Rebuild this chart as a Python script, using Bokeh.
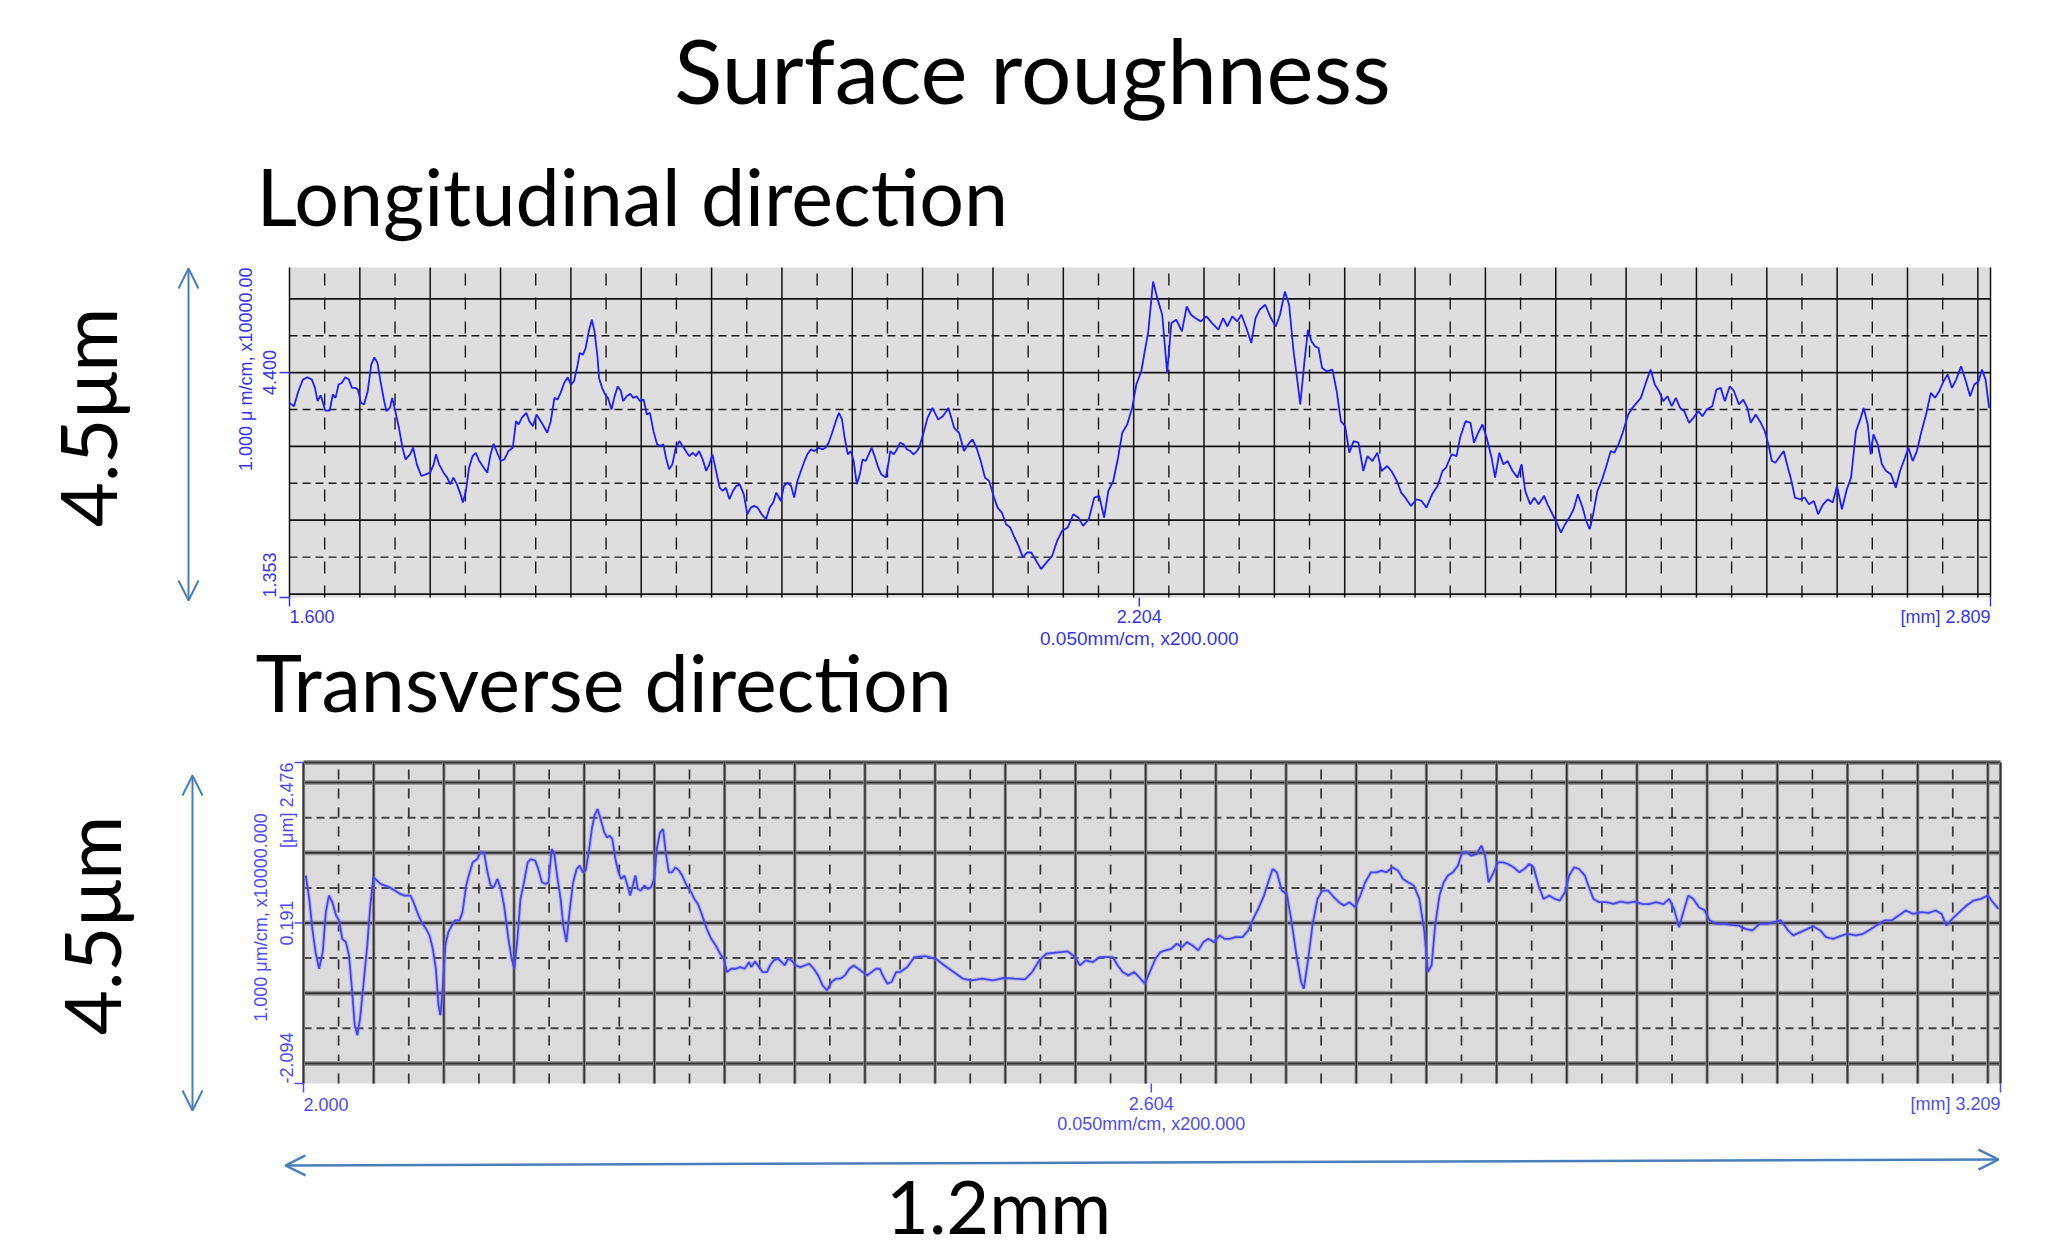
import numpy as np
from bokeh.plotting import figure
from bokeh.models import Range1d, Arrow, OpenHead
from bokeh.core.properties import value
from bokeh.embed import file_html
from bokeh.resources import INLINE

# ---------------------------------------------------------------- data
TITLE = "Surface roughness"
SUB_LONG = "Longitudinal direction"
SUB_TRANS = "Transverse direction"
SPAN_Y_LABEL = "4.5\u03bcm"
SPAN_X_LABEL = "1.2mm"

# profile, longitudinal direction: (position [mm], height [um])
long_profile = [
    (1.6000,3.990),(1.6032,3.945),(1.6063,4.148),(1.6095,4.305),(1.6127,4.337),(1.6159,4.305),(1.6181,4.193),(1.6200,4.013),(1.6222,4.094),(1.6254,3.886),
    (1.6286,3.886),(1.6308,4.103),(1.6327,4.058),(1.6349,4.238),(1.6371,4.260),(1.6397,4.337),(1.6422,4.305),(1.6444,4.193),(1.6467,4.193),(1.6486,4.170),
    (1.6508,3.990),(1.6530,3.968),(1.6556,4.148),(1.6581,4.508),(1.6603,4.607),(1.6625,4.531),(1.6651,4.238),(1.6673,4.013),(1.6689,3.877),(1.6714,3.922),
    (1.6730,4.058),(1.6752,3.877),(1.6778,3.652),(1.6803,3.382),(1.6825,3.224),(1.6857,3.292),(1.6879,3.382),(1.6905,3.157),(1.6937,2.999),(1.6968,3.022),
    (1.7000,3.044),(1.7025,3.157),(1.7041,3.292),(1.7063,3.157),(1.7095,3.044),(1.7121,2.977),(1.7143,2.886),(1.7165,2.977),(1.7190,2.886),(1.7216,2.751),
    (1.7232,2.639),(1.7254,2.796),(1.7276,3.112),(1.7302,3.269),(1.7324,3.314),(1.7349,3.202),(1.7381,3.112),(1.7406,3.044),(1.7429,3.292),(1.7451,3.436),
    (1.7476,3.314),(1.7502,3.202),(1.7527,3.224),(1.7556,3.337),(1.7587,3.382),(1.7610,3.742),(1.7629,3.697),(1.7651,3.787),(1.7683,3.855),(1.7705,3.742),
    (1.7730,3.675),(1.7756,3.832),(1.7778,3.765),(1.7800,3.697),(1.7832,3.585),(1.7857,3.742),(1.7883,4.058),(1.7905,4.035),(1.7927,4.125),(1.7952,4.260),
    (1.7978,4.337),(1.8000,4.238),(1.8022,4.283),(1.8048,4.508),(1.8063,4.666),(1.8086,4.643),(1.8105,4.733),(1.8127,4.959),(1.8149,5.116),(1.8168,4.959),
    (1.8190,4.598),(1.8200,4.328),(1.8222,4.193),(1.8244,4.103),(1.8263,4.058),(1.8289,3.900),(1.8308,4.058),(1.8333,4.215),(1.8356,4.148),(1.8371,4.013),
    (1.8397,4.080),(1.8422,4.112),(1.8444,4.058),(1.8467,4.080),(1.8492,4.013),(1.8517,4.035),(1.8540,3.832),(1.8562,3.855),(1.8587,3.607),(1.8613,3.427),
    (1.8635,3.405),(1.8657,3.427),(1.8676,3.247),(1.8698,3.089),(1.8721,3.157),(1.8746,3.382),(1.8771,3.472),(1.8794,3.405),(1.8825,3.314),(1.8841,3.269),
    (1.8867,3.314),(1.8889,3.269),(1.8911,3.337),(1.8937,3.224),(1.8962,3.067),(1.8984,3.157),(1.9006,3.292),(1.9032,3.067),(1.9057,2.841),(1.9079,2.796),
    (1.9102,2.841),(1.9127,2.684),(1.9152,2.796),(1.9175,2.864),(1.9200,2.886),(1.9229,2.751),(1.9254,2.481),(1.9279,2.571),(1.9302,2.594),(1.9327,2.571),
    (1.9356,2.481),(1.9387,2.413),(1.9413,2.571),(1.9438,2.639),(1.9460,2.774),(1.9492,2.661),(1.9514,2.864),(1.9540,2.909),(1.9565,2.864),(1.9587,2.706),
    (1.9610,2.932),(1.9635,3.067),(1.9660,3.202),(1.9683,3.301),(1.9705,3.359),(1.9730,3.337),(1.9762,3.382),(1.9787,3.359),(1.9810,3.382),(1.9832,3.450),
    (1.9857,3.585),(1.9883,3.742),(1.9905,3.855),(1.9927,3.765),(1.9946,3.517),(1.9968,3.292),(1.9990,3.337),(2.0010,3.202),(2.0032,2.886),(2.0054,3.022),
    (2.0073,3.224),(2.0095,3.202),(2.0117,3.292),(2.0137,3.382),(2.0159,3.269),(2.0181,3.134),(2.0206,3.022),(2.0238,2.977),(2.0254,3.134),(2.0270,3.337),
    (2.0295,3.292),(2.0317,3.359),(2.0340,3.450),(2.0365,3.427),(2.0390,3.359),(2.0413,3.337),(2.0435,3.292),(2.0460,3.337),(2.0475,3.382),
    (2.0510,3.607),(2.0535,3.787),(2.0570,3.922),(2.0610,3.765),(2.0644,3.810),(2.0684,3.922),(2.0724,3.652),(2.0759,3.585),(2.0794,3.337),(2.0824,3.427),
    (2.0854,3.495),(2.0883,3.382),(2.0913,3.202),(2.0943,2.977),(2.0973,2.932),(2.1008,2.706),(2.1033,2.571),(2.1063,2.504),(2.1093,2.346),(2.1123,2.301),
    (2.1153,2.166),(2.1182,2.053),(2.1212,1.896),(2.1242,1.963),(2.1272,1.963),(2.1307,1.850),(2.1342,1.738),(2.1381,1.828),(2.1421,1.918),(2.1456,2.121),
    (2.1491,2.256),(2.1531,2.301),(2.1571,2.481),(2.1606,2.436),(2.1641,2.323),(2.1681,2.413),(2.1720,2.706),(2.1755,2.729),(2.1790,2.436),(2.1820,2.796),
    (2.1855,2.932),(2.1889,3.247),(2.1919,3.585),(2.1954,3.697),(2.1989,3.922),(2.2019,4.238),(2.2054,4.418),(2.2079,4.688),(2.2104,4.959),(2.2138,5.634),
    (2.2168,5.409),(2.2203,5.184),(2.2238,4.396),(2.2268,5.071),(2.2303,5.116),(2.2343,4.959),(2.2377,5.296),(2.2407,5.184),(2.2437,5.139),(2.2477,5.094),
    (2.2517,5.161),(2.2557,5.071),(2.2602,4.981),(2.2636,5.139),(2.2666,5.026),(2.2701,5.161),(2.2736,5.094),(2.2766,5.184),(2.2801,5.004),(2.2836,4.801),
    (2.2866,5.139),(2.2895,5.251),(2.2935,5.319),(2.2975,5.139),(2.3010,5.026),(2.3040,5.184),(2.3075,5.499),(2.3105,5.319),(2.3134,4.733),(2.3164,4.283),
    (2.3184,3.968),(2.3214,4.553),(2.3239,4.981),(2.3264,4.823),(2.3289,4.756),(2.3314,4.733),(2.3339,4.463),(2.3373,4.418),(2.3413,4.441),(2.3443,4.148),
    (2.3473,3.742),(2.3503,3.675),(2.3533,3.314),(2.3563,3.472),(2.3598,3.450),(2.3632,3.067),(2.3662,3.269),(2.3697,3.202),(2.3732,3.314),(2.3762,3.067),
    (2.3802,3.134),(2.3832,3.067),(2.3871,2.932),(2.3901,2.774),(2.3931,2.706),(2.3971,2.594),(2.4011,2.684),(2.4046,2.661),(2.4081,2.571),(2.4121,2.751),
    (2.4160,2.864),(2.4195,3.067),(2.4220,3.112),(2.4260,3.292),(2.4295,3.269),(2.4320,3.517),(2.4359,3.742),(2.4394,3.720),(2.4419,3.450),(2.4449,3.585),
    (2.4479,3.697),(2.4509,3.517),(2.4544,3.247),(2.4569,2.977),(2.4599,3.314),(2.4628,3.157),(2.4658,3.202),(2.4693,3.067),(2.4728,2.977),(2.4758,3.157),
    (2.4783,2.796),(2.4818,2.616),(2.4848,2.706),(2.4878,2.616),(2.4917,2.729),(2.4942,2.616),(2.4977,2.481),(2.5007,2.368),(2.5037,2.233),(2.5067,2.346),
    (2.5097,2.436),(2.5127,2.549),(2.5157,2.751),(2.5191,2.571),(2.5216,2.391),(2.5241,2.278),(2.5266,2.481),(2.5296,2.796),(2.5326,2.932),(2.5356,3.112),
    (2.5391,3.337),(2.5416,3.314),(2.5446,3.427),(2.5476,3.585),(2.5515,3.832),(2.5545,3.922),(2.5575,3.990),(2.5605,4.058),(2.5640,4.260),(2.5674,4.441),
    (2.5704,4.238),(2.5734,4.148),(2.5764,4.013),(2.5794,4.080),(2.5824,3.945),(2.5854,4.058),(2.5884,3.922),(2.5913,3.877),(2.5948,3.720),(2.5978,3.787),
    (2.6013,3.877),(2.6043,3.810),(2.6073,3.900),(2.6112,3.945),(2.6142,4.170),(2.6172,4.193),(2.6202,4.013),(2.6237,4.215),(2.6267,4.148),(2.6302,3.968),
    (2.6332,4.035),(2.6362,3.922),(2.6386,3.720),(2.6421,3.832),(2.6451,3.742),(2.6486,3.607),(2.6511,3.427),(2.6536,3.202),(2.6561,3.179),(2.6586,3.247),
    (2.6620,3.337),(2.6650,3.112),(2.6670,2.977),(2.6700,2.706),(2.6735,2.684),(2.6770,2.706),(2.6800,2.616),(2.6835,2.661),(2.6865,2.481),(2.6900,2.616),
    (2.6934,2.684),(2.6969,2.639),(2.6999,2.864),(2.7034,2.549),(2.7069,2.819),(2.7099,2.977),(2.7134,3.607),(2.7168,3.787),(2.7188,3.922),(2.7218,3.697),
    (2.7238,3.292),(2.7258,3.562),(2.7288,3.427),(2.7318,3.157),(2.7348,3.067),(2.7382,3.022),(2.7417,2.841),(2.7447,3.067),(2.7482,3.247),(2.7507,3.382),
    (2.7537,3.202),(2.7567,3.337),(2.7597,3.585),(2.7632,3.832),(2.7666,4.125),(2.7696,4.058),(2.7726,4.148),(2.7756,4.283),(2.7786,4.373),(2.7816,4.193),
    (2.7846,4.305),(2.7881,4.486),(2.7915,4.283),(2.7945,4.080),(2.7975,4.238),(2.8005,4.283),(2.8030,4.441),(2.8055,4.305),(2.8080,3.922),
]

# profile, transverse direction: (position [mm], height [um])
trans_profile = [
    (2.0016,0.866),(2.0041,0.534),(2.0063,0.108),(2.0086,-0.223),(2.0111,-0.460),(2.0137,-0.223),(2.0159,0.345),(2.0181,0.582),(2.0206,0.487),(2.0232,0.298),
    (2.0254,0.227),(2.0276,-0.034),(2.0302,-0.081),(2.0324,-0.271),(2.0343,-0.697),(2.0365,-1.265),(2.0384,-1.407),(2.0403,-1.170),(2.0429,-0.649),(2.0454,-0.129),
    (2.0476,0.440),(2.0498,0.842),(2.0524,0.795),(2.0549,0.747),(2.0581,0.724),(2.0613,0.700),(2.0651,0.653),(2.0689,0.605),(2.0721,0.582),(2.0762,0.582),
    (2.0784,0.487),(2.0810,0.345),(2.0841,0.203),(2.0873,0.108),(2.0898,0.014),(2.0921,-0.176),(2.0943,-0.460),(2.0962,-0.981),(2.0975,-1.123),(2.0990,-0.791),
    (2.1010,-0.129),(2.1032,0.061),(2.1057,0.155),(2.1079,0.227),(2.1111,0.227),(2.1133,0.345),(2.1159,0.724),(2.1184,0.913),(2.1206,1.055),(2.1238,1.102),
    (2.1260,1.197),(2.1286,1.197),(2.1311,0.913),(2.1333,0.724),(2.1356,0.700),(2.1381,0.818),(2.1406,0.676),(2.1429,0.440),(2.1460,-0.034),(2.1483,-0.318),
    (2.1502,-0.460),(2.1524,-0.034),(2.1546,0.534),(2.1571,0.771),(2.1597,1.055),(2.1619,1.102),(2.1651,1.079),(2.1673,0.960),(2.1698,0.771),(2.1724,0.747),
    (2.1746,0.771),(2.1768,1.244),(2.1787,1.173),(2.1810,0.818),(2.1832,0.534),(2.1851,0.155),(2.1873,-0.081),(2.1895,0.345),(2.1921,0.771),(2.1946,0.960),
    (2.1968,1.008),(2.1990,0.913),(2.2010,0.937),(2.2032,1.197),(2.2054,1.528),(2.2073,1.718),(2.2095,1.812),(2.2117,1.670),(2.2143,1.481),(2.2162,1.410),
    (2.2181,1.434),(2.2200,1.386),(2.2222,1.102),(2.2244,0.913),(2.2263,0.818),(2.2286,0.866),(2.2308,0.724),(2.2327,0.582),(2.2349,0.747),(2.2365,0.866),
    (2.2381,0.676),(2.2403,0.653),(2.2429,0.724),(2.2454,0.676),(2.2476,0.700),(2.2498,0.818),(2.2517,1.244),(2.2540,1.481),(2.2562,1.528),(2.2581,1.197),
    (2.2603,0.913),(2.2625,0.913),(2.2651,0.984),(2.2676,0.937),(2.2698,0.866),(2.2730,0.724),(2.2762,0.629),(2.2784,0.534),(2.2810,0.463),(2.2841,0.298),
    (2.2873,0.108),(2.2905,-0.034),(2.2937,-0.129),(2.2968,-0.247),(2.2994,-0.318),(2.3016,-0.507),(2.3048,-0.460),(2.3079,-0.460),(2.3111,-0.436),(2.3143,-0.460),
    (2.3175,-0.365),(2.3190,-0.436),(2.3216,-0.356),(2.3238,-0.413),(2.3270,-0.507),(2.3302,-0.507),(2.3324,-0.413),(2.3349,-0.342),(2.3381,-0.318),(2.3406,-0.365),
    (2.3429,-0.413),(2.3451,-0.318),(2.3476,-0.342),(2.3508,-0.413),(2.3540,-0.436),(2.3571,-0.413),(2.3603,-0.389),(2.3635,-0.460),(2.3667,-0.555),(2.3698,-0.697),
    (2.3730,-0.768),(2.3762,-0.649),(2.3794,-0.602),(2.3825,-0.602),(2.3857,-0.555),(2.3889,-0.460),(2.3921,-0.413),(2.3952,-0.460),(2.3984,-0.507),(2.4016,-0.555),
    (2.4048,-0.507),(2.4079,-0.460),(2.4105,-0.460),(2.4127,-0.555),(2.4159,-0.673),(2.4190,-0.649),(2.4222,-0.507),
    (2.4251,-0.507),(2.4302,-0.436),(2.4353,-0.294),(2.4429,-0.280),(2.4505,-0.318),(2.4566,-0.413),(2.4632,-0.507),(2.4698,-0.602),(2.4759,-0.626),(2.4835,-0.602),
    (2.4912,-0.626),(2.4988,-0.592),(2.5064,-0.602),(2.5140,-0.611),(2.5191,-0.507),(2.5242,-0.342),(2.5293,-0.247),(2.5344,-0.233),(2.5394,-0.223),(2.5445,-0.214),
    (2.5496,-0.294),(2.5532,-0.413),(2.5572,-0.342),(2.5623,-0.365),(2.5674,-0.294),(2.5725,-0.294),(2.5765,-0.294),(2.5801,-0.413),(2.5836,-0.507),(2.5877,-0.555),
    (2.5918,-0.507),(2.5953,-0.578),(2.5994,-0.673),(2.6029,-0.507),(2.6070,-0.318),(2.6106,-0.223),(2.6141,-0.199),(2.6182,-0.176),(2.6222,-0.105),(2.6258,-0.152),
    (2.6294,-0.081),(2.6334,-0.129),(2.6375,-0.199),(2.6411,-0.081),(2.6446,-0.034),(2.6487,-0.081),(2.6527,0.014),(2.6563,-0.034),(2.6599,-0.034),(2.6639,-0.010),
    (2.6690,-0.010),(2.6731,0.085),(2.6766,0.250),(2.6802,0.392),(2.6843,0.582),(2.6873,0.771),(2.6904,0.960),(2.6934,0.913),(2.6970,0.653),(2.7005,0.605),
    (2.7036,0.250),(2.7071,-0.223),(2.7107,-0.649),(2.7127,-0.744),(2.7158,-0.318),(2.7188,0.155),(2.7224,0.534),(2.7259,0.653),(2.7300,0.653),(2.7341,0.558),
    (2.7376,0.487),(2.7412,0.440),(2.7452,0.487),(2.7493,0.416),(2.7529,0.582),(2.7564,0.771),(2.7605,0.913),(2.7645,0.913),(2.7681,0.937),(2.7716,0.913),
    (2.7757,0.984),(2.7798,0.937),(2.7833,0.818),(2.7869,0.771),(2.7910,0.724),(2.7950,0.534),(2.7986,0.061),(2.8011,-0.507),(2.8037,-0.413),(2.8062,0.155),
    (2.8093,0.582),(2.8123,0.771),(2.8154,0.866),(2.8189,0.913),(2.8225,1.008),(2.8255,1.197),(2.8291,1.197),(2.8316,1.150),(2.8357,1.173),(2.8392,1.292),
    (2.8418,1.150),(2.8443,0.771),(2.8479,0.913),(2.8509,1.055),(2.8545,1.055),(2.8580,1.031),(2.8621,0.984),(2.8662,0.913),(2.8697,0.960),(2.8733,1.031),
    (2.8763,0.984),(2.8799,0.724),(2.8834,0.534),(2.8875,0.582),(2.8916,0.534),(2.8951,0.511),(2.8987,0.629),(2.9017,0.866),(2.9053,0.984),(2.9088,0.960),
    (2.9129,0.866),(2.9154,0.724),(2.9190,0.534),(2.9231,0.487),(2.9282,0.487),(2.9332,0.463),(2.9383,0.496),(2.9434,0.477),(2.9485,0.496),(2.9536,0.463),
    (2.9586,0.459),(2.9637,0.487),(2.9688,0.459),(2.9729,0.534),(2.9764,0.392),(2.9800,0.132),(2.9830,0.345),(2.9866,0.582),(2.9901,0.534),(2.9942,0.416),
    (2.9983,0.369),(3.0018,0.227),(3.0069,0.179),(3.0120,0.179),(3.0171,0.165),(3.0222,0.155),(3.0272,0.108),(3.0323,0.085),(3.0374,0.179),(3.0425,0.179),
    (3.0476,0.203),(3.0526,0.227),(3.0577,0.085),(3.0613,0.014),(3.0664,0.061),(3.0715,0.108),(3.0755,0.146),(3.0806,0.085),(3.0847,-0.010),(3.0898,-0.034),
    (3.0948,0.004),(3.0999,0.037),(3.1060,0.014),(3.1111,0.037),(3.1162,0.099),(3.1213,0.165),(3.1263,0.227),(3.1314,0.227),(3.1365,0.298),(3.1416,0.369),
    (3.1467,0.321),(3.1528,0.345),(3.1578,0.335),(3.1629,0.369),(3.1670,0.321),(3.1705,0.155),(3.1746,0.250),(3.1797,0.345),(3.1848,0.440),(3.1898,0.511),
    (3.1949,0.534),(3.2000,0.582),(3.2036,0.487),(3.2076,0.392),
]

long_xlim = (1.600, 2.809)
long_ylim = (1.353, 5.824)
trans_xlim = (2.000, 3.209)
trans_ylim = (-2.094, 2.476)

long_xticks = [1.600, 2.204, 2.809]
long_xtick_labels = ["1.600", "2.204", "[mm] 2.809"]
long_yticks = [1.353, 4.400]
long_ytick_labels = ["1.353", "4.400"]
trans_xticks = [2.000, 2.604, 3.209]
trans_xtick_labels = ["2.000", "2.604", "[mm] 3.209"]
trans_yticks = [-2.094, 0.191, 2.476]
trans_ytick_labels = ["-2.094", "0.191", "[\u03bcm] 2.476"]

X_SCALE_LABEL = "0.050mm/cm, x200.000"
LONG_Y_SCALE_LABEL = "1.000 \u03bc m/cm, x10000.00"
TRANS_Y_SCALE_LABEL = "1.000 \u03bcm/cm, x10000.000"

GRID_STEP_X = 0.05   # mm per major division (0.050 mm/cm)
GRID_STEP_Y = 1.0    # um per major division (1.000 um/cm)

# ---------------------------------------------------------------- layout
W, H = 2048, 1252
OX, OY = 0, 0
BIG_FONT = "Lato"
SMALL_FONT = "Liberation Sans"
ARROW_COLOR = "#4a7ebb"
BASELINE_FIX = 0.385   # em; measured offset of the rendered alphabetic baseline


def Y(py):
    """page pixel row (downwards) -> default data y (upwards)"""
    return -py


def lin_range(p0, p1, v0, v1, c0, c1):
    k = (v1 - v0) / (p1 - p0)
    return Range1d(start=v0 + (c0 - p0) * k, end=v0 + (c1 - p0) * k)


p = figure(width=W, height=H,
           x_range=Range1d(OX, OX + W), y_range=Range1d(-(OY + H), -OY),
           x_axis_type=None, y_axis_type=None,
           toolbar_location=None, output_backend="svg", min_border=0)
p.outline_line_color = None
p.background_fill_color = "white"
p.border_fill_color = "white"

# chart frames on the page (pixels) -> data ranges
p.extra_x_ranges = {
    "xL": lin_range(289, 1990, long_xlim[0], long_xlim[1], OX, OX + W),
    "xT": lin_range(303, 2000, trans_xlim[0], trans_xlim[1], OX, OX + W),
}
p.extra_y_ranges = {
    "yL": lin_range(597, 267, long_ylim[0], long_ylim[1], OY + H, OY),
    "yT": lin_range(1083, 762, trans_ylim[0], trans_ylim[1], OY + H, OY),
}


def txt(x, y, s, size, color, font, align="left", angle=0.0, xn="default", yn="default"):
    d = BASELINE_FIX * size
    if angle == 0.0:
        y = y + d          # y is always a page coordinate for horizontal texts
    else:
        x = x - d          # x is always a page coordinate for vertical texts
    p.text(x=[x], y=[y], text=[s], angle=angle, text_align=align, text_baseline="alphabetic",
           text_font=value(font), text_font_size=value(f"{size}px"), text_color=color,
           x_range_name=xn, y_range_name=yn)


def grid_positions(xlim, ylim, y_anchor):
    xs_solid = list(np.round(np.arange(xlim[0], xlim[1] + 1e-9, GRID_STEP_X), 4)) + [xlim[1]]
    xs_dash = np.round(np.arange(xlim[0] + GRID_STEP_X / 2, xlim[1], GRID_STEP_X), 4)
    y0 = y_anchor - np.floor((y_anchor - ylim[0]) / GRID_STEP_Y) * GRID_STEP_Y
    ys_solid = np.arange(y0, ylim[1], GRID_STEP_Y)
    yd0 = y0 - GRID_STEP_Y / 2
    if yd0 < ylim[0]:
        yd0 += GRID_STEP_Y
    ys_dash = np.arange(yd0, ylim[1], GRID_STEP_Y)
    return xs_solid, xs_dash, ys_solid, ys_dash


# ---------------------------------------------------------------- chart 1 (longitudinal)
kwL = dict(x_range_name="xL", y_range_name="yL")
p.quad(left=[long_xlim[0]], right=[long_xlim[1]], bottom=[long_ylim[0]], top=[long_ylim[1]],
       fill_color="#dedede", line_color=None, **kwL)
xs_s, xs_d, ys_s, ys_d = grid_positions(long_xlim, long_ylim, long_yticks[1])
n = len(ys_d)
p.segment(x0=[long_xlim[0]] * n, x1=[long_xlim[1]] * n, y0=ys_d, y1=ys_d,
          line_color="#1a1a1a", line_width=1.4, line_dash="8 5", **kwL)
n = len(xs_d)
p.segment(x0=xs_d, x1=xs_d, y0=[long_ylim[0]] * n, y1=[long_ylim[1]] * n,
          line_color="#1a1a1a", line_width=1.4, line_dash="12 12", **kwL)
n = len(ys_s)
p.segment(x0=[long_xlim[0]] * n, x1=[long_xlim[1]] * n, y0=ys_s, y1=ys_s,
          line_color="#111111", line_width=1.7, **kwL)
n = len(xs_s)
p.segment(x0=xs_s, x1=xs_s, y0=[long_ylim[0]] * n, y1=[long_ylim[1]] * n,
          line_color="#111111", line_width=1.5, **kwL)
lx, ly = zip(*long_profile)
p.line(x=list(lx), y=list(ly), line_color="#1e1eff", line_width=1.8, **kwL)

BLUE1 = "#3535f0"
# x ticks + labels
p.segment(x0=long_xticks, x1=long_xticks, y0=[Y(597)] * 3, y1=[Y(606)] * 3,
          line_color=BLUE1, line_width=1.5, x_range_name="xL")
txt(long_xticks[0], Y(623), long_xtick_labels[0], 18, BLUE1, SMALL_FONT, "left", xn="xL")
txt(long_xticks[1], Y(623), long_xtick_labels[1], 18, BLUE1, SMALL_FONT, "center", xn="xL")
txt(long_xticks[2], Y(623), long_xtick_labels[2], 18, BLUE1, SMALL_FONT, "right", xn="xL")
txt(long_xticks[1], Y(645), X_SCALE_LABEL, 19, BLUE1, SMALL_FONT, "center", xn="xL")
# y ticks + labels
p.segment(x0=[279] * 2, x1=[289] * 2, y0=long_yticks, y1=long_yticks,
          line_color=BLUE1, line_width=1.5, y_range_name="yL")
txt(276, long_yticks[0], long_ytick_labels[0], 18, BLUE1, SMALL_FONT, "left", angle=np.pi / 2, yn="yL")
txt(276, long_yticks[1], long_ytick_labels[1], 18, BLUE1, SMALL_FONT, "center", angle=np.pi / 2, yn="yL")
txt(252, long_ylim[1], LONG_Y_SCALE_LABEL, 18, BLUE1, SMALL_FONT, "right", angle=np.pi / 2, yn="yL")

# ---------------------------------------------------------------- chart 2 (transverse)
kwT = dict(x_range_name="xT", y_range_name="yT")
p.quad(left=[trans_xlim[0]], right=[trans_xlim[1]], bottom=[trans_ylim[0]], top=[trans_ylim[1]],
       fill_color="#dbdbdb", line_color=None, **kwT)
xs_s, xs_d, ys_s, ys_d = grid_positions(trans_xlim, trans_ylim, trans_yticks[1])
ys_s = list(ys_s) + [trans_ylim[1]]
n = len(ys_d)
p.segment(x0=[trans_xlim[0]] * n, x1=[trans_xlim[1]] * n, y0=ys_d, y1=ys_d,
          line_color="#444444", line_width=2.0, line_dash="8 5", **kwT)
n = len(xs_d)
p.segment(x0=xs_d, x1=xs_d, y0=[trans_ylim[0]] * n, y1=[trans_ylim[1]] * n,
          line_color="#333333", line_width=1.7, line_dash="10 9", **kwT)
n = len(ys_s)
p.segment(x0=[trans_xlim[0]] * n, x1=[trans_xlim[1]] * n, y0=ys_s, y1=ys_s,
          line_color="#9a9a9a", line_width=5, **kwT)
p.segment(x0=[trans_xlim[0]] * n, x1=[trans_xlim[1]] * n, y0=ys_s, y1=ys_s,
          line_color="#333333", line_width=2, **kwT)
n = len(xs_s)
p.segment(x0=xs_s, x1=xs_s, y0=[trans_ylim[0]] * n, y1=[trans_ylim[1]] * n,
          line_color="#8a8a8a", line_width=3.2, **kwT)
p.segment(x0=xs_s, x1=xs_s, y0=[trans_ylim[0]] * n, y1=[trans_ylim[1]] * n,
          line_color="#333333", line_width=1.5, **kwT)
tx, ty = zip(*trans_profile)
p.line(x=list(tx), y=list(ty), line_color="#7b7bf5", line_width=4, line_alpha=0.35, **kwT)
p.line(x=list(tx), y=list(ty), line_color="#4444f0", line_width=1.8, **kwT)

BLUE2 = "#4d4df2"
p.segment(x0=trans_xticks, x1=trans_xticks, y0=[Y(1083)] * 3, y1=[Y(1092)] * 3,
          line_color=BLUE2, line_width=1.5, x_range_name="xT")
txt(trans_xticks[0], Y(1111), trans_xtick_labels[0], 18, BLUE2, SMALL_FONT, "left", xn="xT")
txt(trans_xticks[1], Y(1110), trans_xtick_labels[1], 18, BLUE2, SMALL_FONT, "center", xn="xT")
txt(trans_xticks[2], Y(1110), trans_xtick_labels[2], 18, BLUE2, SMALL_FONT, "right", xn="xT")
txt(trans_xticks[1], Y(1130), X_SCALE_LABEL, 18, BLUE2, SMALL_FONT, "center", xn="xT")
p.segment(x0=[294] * 3, x1=[303] * 3, y0=trans_yticks, y1=trans_yticks,
          line_color=BLUE2, line_width=1.5, y_range_name="yT")
txt(293, trans_yticks[0], trans_ytick_labels[0], 18, BLUE2, SMALL_FONT, "left", angle=np.pi / 2, yn="yT")
txt(293, trans_yticks[1], trans_ytick_labels[1], 18, BLUE2, SMALL_FONT, "center", angle=np.pi / 2, yn="yT")
txt(293, trans_yticks[2], trans_ytick_labels[2], 18, BLUE2, SMALL_FONT, "right", angle=np.pi / 2, yn="yT")
txt(267, Y(917), TRANS_Y_SCALE_LABEL, 18, BLUE2, SMALL_FONT, "center", angle=np.pi / 2)

# ---------------------------------------------------------------- titles and dimension arrows
txt(1032, Y(103), TITLE, 89, "black", BIG_FONT, "center")
txt(256, Y(225), SUB_LONG, 79, "black", BIG_FONT, "left")
txt(255, Y(711), SUB_TRANS, 79, "black", BIG_FONT, "left")
txt(998, Y(1233), SPAN_X_LABEL, 74, "black", BIG_FONT, "center")
txt(117, Y(417), SPAN_Y_LABEL, 78, "black", BIG_FONT, "center", angle=np.pi / 2)
txt(121, Y(925), SPAN_Y_LABEL, 78, "black", BIG_FONT, "center", angle=np.pi / 2)


def dim_arrow(x0, y0, x1, y1, lw=2):
    head = dict(size=20, line_color=ARROW_COLOR, line_width=lw)
    p.add_layout(Arrow(start=OpenHead(**head), end=OpenHead(**head),
                       x_start=x0, y_start=Y(y0), x_end=x1, y_end=Y(y1),
                       line_color=ARROW_COLOR, line_width=lw))


dim_arrow(188, 268, 188, 600)
dim_arrow(192, 775, 192, 1110)
dim_arrow(285, 1165, 1998, 1159, lw=2.5)

open("out.html", "w").write(file_html(p, INLINE))
